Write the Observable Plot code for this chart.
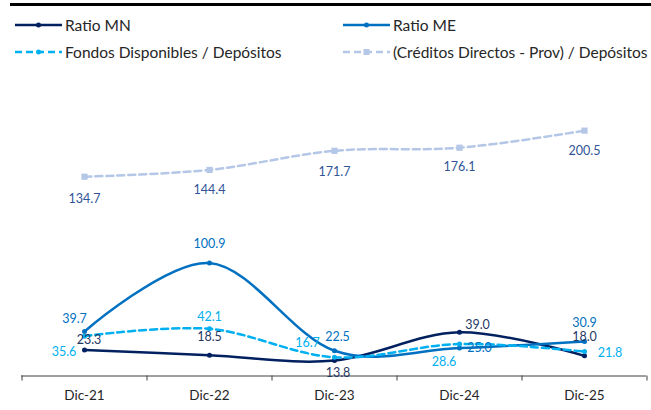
<!DOCTYPE html>
<html><head><meta charset="utf-8">
<script src="https://cdn.jsdelivr.net/npm/d3@7"></script>
<script src="https://cdn.jsdelivr.net/npm/@observablehq/plot@0.6"></script>
<style>
body{margin:0;background:#fff;font-family:Lato,"Open Sans",sans-serif;}
#wrap{position:relative;width:651px;height:410px;overflow:hidden;background:#fff}
#topbar{position:absolute;left:10px;top:3px;width:641px;height:3px;background:#000}
#legend{position:absolute;left:0;top:0;width:651px;height:80px}
.item{position:absolute;display:flex;align-items:center;font-size:15.5px;color:#262626;height:20px;white-space:nowrap}
.item svg{margin-right:3px}
#chart{position:absolute;left:0;top:80px}
</style></head>
<body><div id="wrap"><div id="topbar"></div><div id="legend"></div><div id="chart"></div></div>
<script>
// ---- data ----
const categories = ["Dic-21", "Dic-22", "Dic-23", "Dic-24", "Dic-25"];
const ratioMN  = [23.3, 18.5, 13.8, 39.0, 18.0];
const ratioME  = [39.7, 100.9, 22.5, 25.0, 30.9];
const fondos   = [35.6, 42.1, 16.7, 28.6, 21.8];
const creditos = [134.7, 144.4, 171.7, 176.1, 200.5];   // secondary axis
const seriesNames = ["Ratio MN", "Ratio ME", "Fondos Disponibles / Depósitos", "(Créditos Directos - Prov) / Depósitos"];

// ---- styling / layout (not data) ----
const styles = [
  {color: "#002060", text: "#1F3864", dash: null, symbol: "circle", secondary: false},
  {color: "#0070C0", text: "#0070C0", dash: null, symbol: "circle", secondary: false},
  {color: "#00B0F0", text: "#00B0F0", dash: "7,4", symbol: "circle", secondary: false},
  {color: "#B4C7E7", text: "#2F5597", dash: "7,4", symbol: "square", secondary: true}
];
// label nudges in px [dx, dy] (Excel's manual data-label placement)
const nudges = [
  [[4.5, -9.5], [0, -18], [3.5, 12], [18, -7], [0, -18.5]],
  [[-10, -13], [0, -18.5], [3, -14], [20, 0], [0, -18]],
  [[-20.5, 16], [0, -11.5], [-27, -14], [-15.5, 18], [25.5, 1]],
  [[0, 22], [0, 20.5], [0, 21], [0, 19.5], [0, 20]]
];
const allValues = [ratioMN, ratioME, fondos, creditos];

// secondary axis [-150, 250] mapped onto primary [0, 250]
const secToPrim = d3.scaleLinear().domain([-150, 250]).range([0, 250]);

const rows = [];
allValues.forEach((vals, s) => {
  vals.forEach((v, i) => rows.push({
    s, cat: categories[i], value: v,
    y: styles[s].secondary ? secToPrim(v) : v,
    dx: nudges[s][i][0], dy: nudges[s][i][1]
  }));
});

// ---- legend ----
const legend = document.getElementById("legend");
const legendPos = [[15, 15], [343, 15], [15, 42], [343, 42]];
seriesNames.forEach((name, s) => {
  const st = styles[s];
  const div = document.createElement("div");
  div.className = "item";
  div.style.left = legendPos[s][0] + "px";
  div.style.top = legendPos[s][1] + "px";
  const marker = st.symbol === "square"
    ? `<rect x="20.5" y="2" width="6" height="6" fill="${st.color}"/>`
    : `<circle cx="23.5" cy="5" r="2.5" fill="${st.color}"/>`;
  div.innerHTML = `<svg width="47" height="10"><line x1="0" x2="47" y1="5" y2="5" stroke="${st.color}" stroke-width="2.5" ${st.dash ? `stroke-dasharray="${st.dash}"` : ""}/>${marker}</svg><span>${name}</span>`;
  legend.appendChild(div);
});

// ---- chart ----
const marks = [];
marks.push(Plot.ruleY([0], {stroke: "#404040", strokeWidth: 1}));
marks.push(Plot.ruleX(categories, {x: d => d, y1: 0, y2: -4.5, dx: -62.5, stroke: "#404040"}));
marks.push(Plot.ruleX([categories[categories.length - 1]], {x: d => d, y1: 0, y2: -4.5, dx: 62.5, stroke: "#404040"}));
marks.push(Plot.axisX({tickSize: 0, tickPadding: 14, fontSize: 13.5, fill: "#262626", label: null}));

styles.forEach((st, s) => {
  const data = rows.filter(r => r.s === s);
  marks.push(Plot.line(data, {x: "cat", y: "y", stroke: st.color, strokeWidth: 2.5,
    curve: "cardinal", tension: 0, strokeDasharray: st.dash || undefined}));
  marks.push(Plot.dot(data, {x: "cat", y: "y", fill: st.color, stroke: "none",
    symbol: st.symbol, r: st.symbol === "square" ? 3.5 : 2.5}));
});
rows.forEach(r => {
  marks.push(Plot.text([r], {x: "cat", y: "y", text: d => d.value.toFixed(1),
    dx: r.dx, dy: r.dy, fill: styles[r.s].text, fontSize: 12.5}));
});

const chart = Plot.plot({
  width: 651, height: 330,
  marginTop: 15.5, marginBottom: 34.5, marginLeft: 21, marginRight: 5,
  style: {fontFamily: "Lato, 'Open Sans', sans-serif", background: "white", overflow: "visible"},
  x: {type: "point", domain: categories, padding: 0.5, axis: null},
  y: {domain: [0, 250], axis: null},
  marks
});
document.getElementById("chart").appendChild(chart);
</script>
</body></html>
